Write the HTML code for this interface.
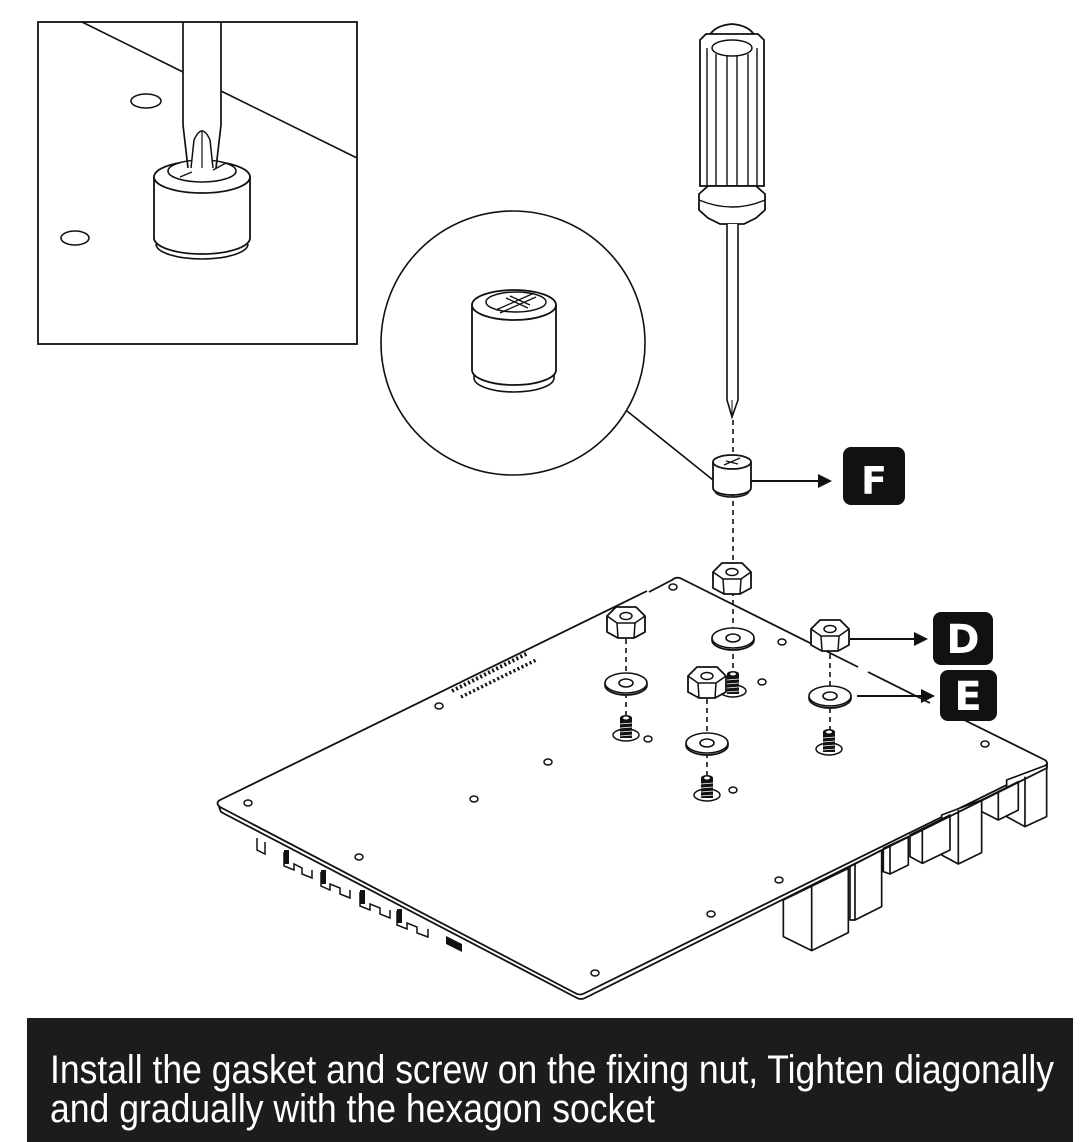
<!DOCTYPE html>
<html><head><meta charset="utf-8"><style>
html,body{margin:0;padding:0;background:#fff;}
svg{display:block;}
</style></head><body>
<svg width="1091" height="1142" viewBox="0 0 1091 1142" xmlns="http://www.w3.org/2000/svg">
<defs>
<g id="nut">
<polygon points="-19,-6 -10,-15 10,-15 19,-6 19,10 8,16 -8,16 -19,10" fill="#fff" stroke="#111" stroke-width="1.8" stroke-linejoin="round"/>
<polyline points="-19,-6 -9,1 9,1 19,-6" fill="none" stroke="#111" stroke-width="1.5"/>
<line x1="-9" y1="1" x2="-8" y2="16" stroke="#111" stroke-width="1.5"/>
<line x1="9" y1="1" x2="8" y2="16" stroke="#111" stroke-width="1.5"/>
<ellipse cx="0" cy="-6" rx="6" ry="3.5" fill="#fff" stroke="#111" stroke-width="1.5"/>
</g>
<g id="washer">
<ellipse cx="0" cy="2" rx="21" ry="10" fill="#fff" stroke="#111" stroke-width="1.8"/>
<ellipse cx="0" cy="0" rx="21" ry="10" fill="#fff" stroke="#111" stroke-width="1.6"/>
<ellipse cx="0" cy="0" rx="7" ry="4" fill="#fff" stroke="#111" stroke-width="1.6"/>
</g>
<g id="screw">
<ellipse cx="0" cy="5" rx="13" ry="6" fill="#fff" stroke="#111" stroke-width="1.5"/>
<rect x="-6" y="-12" width="12" height="20" fill="#111"/>
<g stroke="#fff" stroke-width="0.8"><line x1="-6" y1="-6" x2="6" y2="-7"/><line x1="-6" y1="-2" x2="6" y2="-3"/><line x1="-6" y1="2" x2="6" y2="1"/><line x1="-6" y1="6" x2="6" y2="5"/></g>
<ellipse cx="0" cy="-12" rx="6" ry="3" fill="#111"/>
<ellipse cx="0" cy="-12" rx="3" ry="1.5" fill="#fff"/>
</g>
</defs>

<!-- Inset box -->
<rect x="38" y="22" width="319" height="322" fill="#fff" stroke="#111" stroke-width="1.8"/>
<line x1="82" y1="22" x2="183" y2="72" stroke="#111" stroke-width="1.6"/>
<line x1="221" y1="91" x2="357" y2="158" stroke="#111" stroke-width="1.6"/>
<ellipse cx="146" cy="101" rx="15" ry="7" fill="none" stroke="#111" stroke-width="1.6"/>
<ellipse cx="75" cy="238" rx="14" ry="7" fill="none" stroke="#111" stroke-width="1.6"/>
<path d="M154,177 L154,238 A48,16 0 0 0 250,238 L250,177" fill="#fff" stroke="#111" stroke-width="1.8"/>
<path d="M156,244 A46,15 0 0 0 248,244" fill="none" stroke="#111" stroke-width="1.6"/>
<ellipse cx="202" cy="177" rx="48" ry="16" fill="#fff" stroke="#111" stroke-width="1.8"/>
<ellipse cx="202" cy="171" rx="34" ry="11" fill="#fff" stroke="#111" stroke-width="1.6"/>
<path d="M183,22 L183,125 L188,168 M221,22 L221,125 L216,168" fill="none" stroke="#111" stroke-width="1.7"/>
<path d="M191,168 L194,140 Q202,122 210,140 L213,168" fill="#fff" stroke="#111" stroke-width="1.5"/>
<line x1="202" y1="130" x2="202" y2="168" stroke="#111" stroke-width="1.2"/>
<path d="M180,177 L192,172 M213,170 L226,163" stroke="#111" stroke-width="1.4"/>

<!-- Magnifier circle -->
<circle cx="513" cy="343" r="132" fill="#fff" stroke="#111" stroke-width="1.6"/>
<line x1="627" y1="411" x2="713" y2="480" stroke="#111" stroke-width="1.6"/>
<path d="M472,305 L472,370 A42,15 0 0 0 556,370 L556,305" fill="#fff" stroke="#111" stroke-width="1.8"/>
<path d="M474,375 L474,378 A40,14 0 0 0 554,378 L554,375" fill="none" stroke="#111" stroke-width="1.6"/>
<ellipse cx="514" cy="305" rx="42" ry="15" fill="#fff" stroke="#111" stroke-width="1.8"/>
<ellipse cx="516" cy="302" rx="30" ry="10" fill="#fff" stroke="#111" stroke-width="1.5"/>
<path d="M496,310 L532,294 M500,313 L536,297 M506,298 L528,308 M510,296 L530,305" stroke="#111" stroke-width="1.3"/>

<!-- Screwdriver -->
<path d="M706,50 Q706,26 732,24 Q758,26 758,50 Z" fill="#fff" stroke="#111" stroke-width="1.8"/>
<path d="M700,40 L706,34 L758,34 L764,40 L764,186 L700,186 Z" fill="#fff" stroke="#111" stroke-width="1.8"/>
<ellipse cx="732" cy="48" rx="20" ry="8" fill="#fff" stroke="#111" stroke-width="1.5"/>
<g stroke="#111" stroke-width="1.4"><line x1="707" y1="48" x2="707" y2="188"/><line x1="716" y1="54" x2="716" y2="190"/><line x1="727" y1="56" x2="727" y2="192"/><line x1="737" y1="56" x2="737" y2="192"/><line x1="748" y1="54" x2="748" y2="190"/><line x1="757" y1="48" x2="757" y2="188"/></g>
<path d="M699,194 L708,186 L756,186 L765,194 L765,210 L756,218 L744,224 L720,224 L708,218 L699,210 Z" fill="#fff" stroke="#111" stroke-width="1.8"/>
<path d="M699,200 Q732,214 765,200" fill="none" stroke="#111" stroke-width="1.4"/>
<path d="M727,224 L727,400 L732,417 L738,400 L738,224" fill="#fff" stroke="#111" stroke-width="1.6"/>
<line x1="732" y1="400" x2="732" y2="414" stroke="#111" stroke-width="1"/>

<!-- Board top outline -->
<g fill="none" stroke="#111" stroke-width="1.8" stroke-linejoin="round">
<path d="M647,591 L220,800 Q215,803 220,807"/>
<path d="M649,592 L672,580 Q677,576 682,579 L858,667"/>
<path d="M868,672 L930,703"/>
<path d="M940,708 L1045,760 Q1049,763 1045,766 L585,993 Q580,996 575,993 L220,807"/>
</g>
<!-- holes -->
<g fill="#fff" stroke="#111" stroke-width="1.5">
<ellipse cx="673" cy="587" rx="4" ry="3"/><ellipse cx="782" cy="642" rx="4" ry="3"/><ellipse cx="762" cy="682" rx="4" ry="3"/>
<ellipse cx="648" cy="739" rx="4" ry="3"/><ellipse cx="733" cy="790" rx="4" ry="3"/><ellipse cx="439" cy="706" rx="4" ry="3"/>
<ellipse cx="548" cy="762" rx="4" ry="3"/><ellipse cx="474" cy="799" rx="4" ry="3"/><ellipse cx="248" cy="803" rx="4" ry="3"/>
<ellipse cx="359" cy="857" rx="4" ry="3"/><ellipse cx="985" cy="744" rx="4" ry="3"/><ellipse cx="779" cy="880" rx="4" ry="3"/>
<ellipse cx="711" cy="914" rx="4" ry="3"/><ellipse cx="595" cy="973" rx="4" ry="3"/>
</g>
<!-- pin rows -->
<line x1="452" y1="691" x2="528" y2="653" stroke="#111" stroke-width="4" stroke-dasharray="2 2.5"/>
<line x1="461" y1="697" x2="536" y2="660" stroke="#111" stroke-width="3.5" stroke-dasharray="2 2.5"/>
<!-- left connectors -->
<g stroke="#111" stroke-width="1.5" fill="none">
<path d="M257,838 L257,850 L265,854 L265,842"/>
<path d="M284,852 L284,866 L294,870 L294,864 L302,868 L302,874 L312,878 L312,870"/>
<path d="M321,872 L321,886 L330,890 L330,884 L340,888 L340,894 L350,898 L350,890"/>
<path d="M360,892 L360,906 L370,910 L370,904 L380,908 L380,914 L390,918 L390,910"/>
<path d="M397,911 L397,925 L407,929 L407,923 L417,927 L417,933 L428,937 L428,929"/>
</g>
<g fill="#111"><rect x="284" y="850" width="5" height="14"/><rect x="321" y="870" width="5" height="14"/><rect x="360" y="890" width="5" height="14"/><rect x="397" y="909" width="5" height="14"/>
<path d="M446,936 L462,944 L462,952 L446,944 Z"/></g>
<!-- right blocks -->
<g transform="translate(760,740) scale(0.3333)" fill="#fff" stroke="#111" stroke-width="5" stroke-linejoin="round">
<path d="M740,120 L740,230 L795,260 L860,230 L860,75 Z"/><line x1="795" y1="110" x2="795" y2="260"/>
<path d="M665,180 L665,215 L715,240 L775,210 L775,125 Z"/><line x1="715" y1="155" x2="715" y2="240"/>
<path d="M545,225 L545,345 L595,372 L665,338 L665,180 Z"/><line x1="595" y1="210" x2="595" y2="372"/>
<path d="M450,285 L450,350 L487,370 L570,330 L570,225 Z"/><line x1="487" y1="265" x2="487" y2="370"/>
<path d="M370,325 L370,395 L390,402 L445,375 L445,290 Z"/><line x1="390" y1="315" x2="390" y2="402"/>
<path d="M270,380 L270,540 L285,540 L365,500 L365,330 Z"/><line x1="285" y1="370" x2="285" y2="540"/>
<path d="M70,480 L70,590 L155,632 L265,578 L265,385 Z"/><line x1="155" y1="440" x2="155" y2="632"/>
</g>
<!-- board thickness -->
<path d="M219,807 L221,812 L577,998 Q581,1000 585,998 L1047,768 L1047,763" fill="none" stroke="#111" stroke-width="1.8"/>

<!-- dashed lines -->
<g stroke="#111" stroke-width="1.6" stroke-dasharray="5 4">
<line x1="733" y1="420" x2="733" y2="685"/>
<line x1="626" y1="630" x2="626" y2="725"/>
<line x1="707" y1="690" x2="707" y2="782"/>
<line x1="830" y1="645" x2="830" y2="738"/>
</g>

<!-- hardware -->
<use href="#screw" x="626" y="730"/>
<use href="#screw" x="733" y="686"/>
<use href="#screw" x="707" y="790"/>
<use href="#screw" x="829" y="744"/>
<use href="#washer" x="626" y="683"/>
<use href="#washer" x="733" y="638"/>
<use href="#washer" x="707" y="743"/>
<use href="#washer" x="830" y="696"/>
<use href="#nut" x="626" y="622"/>
<use href="#nut" x="732" y="578"/>
<use href="#nut" x="707" y="682"/>
<use href="#nut" x="830" y="635"/>

<!-- F cylinder -->
<path d="M713,462 L713,488 A19,7 0 0 0 751,488 L751,462" fill="#fff" stroke="#111" stroke-width="1.8"/>
<path d="M715,491 A17,6 0 0 0 749,491" fill="none" stroke="#111" stroke-width="1.5"/>
<ellipse cx="732" cy="462" rx="19" ry="7" fill="#fff" stroke="#111" stroke-width="1.8"/>
<path d="M724,465 L740,458 M726,461 L738,464" stroke="#111" stroke-width="1.3"/>

<!-- arrows & labels -->
<g stroke="#111" stroke-width="2">
<line x1="751" y1="481" x2="822" y2="481"/>
<line x1="850" y1="639" x2="918" y2="639"/>
<line x1="857" y1="696" x2="925" y2="696"/>
</g>
<g fill="#111">
<polygon points="832,481 818,474 818,488"/>
<polygon points="928,639 914,632 914,646"/>
<polygon points="935,696 921,689 921,703"/>
<rect x="843" y="447" width="62" height="58" rx="8"/>
<rect x="933" y="612" width="60" height="53" rx="8"/>
<rect x="940" y="670" width="57" height="51" rx="8"/>
</g>
<g fill="#fff" font-family="'DejaVu Sans','Liberation Sans',sans-serif" font-weight="bold" text-anchor="middle">
<text x="874" y="494" font-size="38">F</text>
<text x="963" y="653" font-size="40">D</text>
<text x="968" y="710" font-size="40">E</text>
</g>

<!-- banner -->
<rect x="27" y="1018" width="1046" height="124" fill="#1c1c1c"/>
<g fill="#fff" font-family="'Liberation Sans Narrow','Liberation Sans',sans-serif" font-size="40">
<text x="50" y="1083" textLength="1004" lengthAdjust="spacingAndGlyphs">Install the gasket and screw on the fixing nut, Tighten diagonally</text>
<text x="50" y="1122" textLength="605" lengthAdjust="spacingAndGlyphs">and gradually with the hexagon socket</text>
</g>
</svg>
</body></html>
